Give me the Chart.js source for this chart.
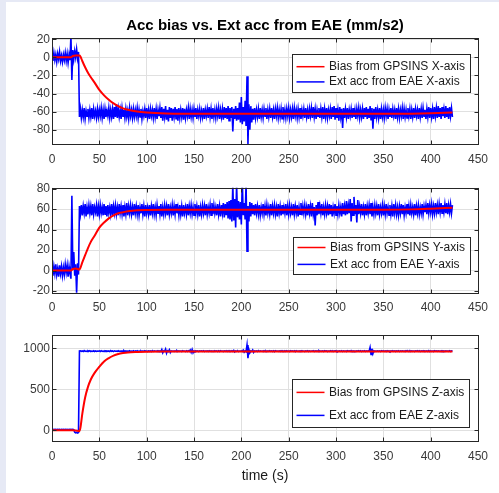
<!DOCTYPE html>
<html>
<head>
<meta charset="utf-8">
<script src="https://cdn.jsdelivr.net/npm/chart.js@4.4.0/dist/chart.umd.min.js"></script>
<style>
  html, body { margin: 0; padding: 0; }
  body { width: 499px; height: 493px; background: #e6e9f5; position: relative; overflow: hidden; }
  #fig { position: absolute; left: 6px; top: 2px; width: 493px; height: 491px; background: #fff; }
  canvas { position: absolute; left: 0; }
</style>
</head>
<body>
<div id="fig"></div>
<canvas id="accX" width="499" height="170" style="top:0px"></canvas>
<canvas id="accY" width="499" height="150" style="top:170px"></canvas>
<canvas id="accZ" width="499" height="173" style="top:320px"></canvas>
<script>
const dt = 1; // EAE samples, seconds apart

const timeTicks = [0, 50, 100, 150, 200, 250, 300, 350, 400, 450];
const yTicksX = [-80, -60, -40, -20, 0, 20];
const yTicksY = [-20, 0, 20, 40, 60, 80];
const yTicksZ = [0, 500, 1000];

// GPSINS bias estimate, sampled sparsely
const biasTime = [0, 20, 22, 25, 29, 30, 32, 35, 38, 41, 45, 50, 55, 60, 65, 70, 75, 80, 90, 100, 120, 150, 200, 250, 300, 350, 380, 400, 423];
const biasX = [0, 0, 1.5, 2, 2, 1, -4, -11, -17, -22, -28, -36, -42, -47, -51, -54, -56.5, -58, -60, -61, -62, -62.3, -62.5, -62.5, -62.5, -62.5, -62.3, -61.8, -61];
const biasY = [0, 0, 1.5, 2, 1, 2.5, 8, 15, 22, 28, 34, 42, 47, 51, 54, 56, 57, 58, 59, 59.3, 59.5, 59.5, 59.5, 59.5, 59.5, 59.5, 59.8, 60.5, 61.5];
const biasZ = [0, 0, 0, -2, -10, 30, 200, 400, 530, 620, 700, 775, 840, 880, 910, 930, 942, 950, 956, 959, 961, 962, 962, 962, 962, 962, 962, 962, 962];

// external acceleration from EAE, one value per second
const extX = [
  2, -4, 5, -3, 3, -5, 4, -2, 6, -4, 2, -5, 3, -3, 5, -4, 4, -6, 3, -3,
  24, -25, 8, -2, 7, 0, 9, -1, 6, -66,
  -57, -67, -58, -66, -56, -68, -59, -65, -57, -67, -58, -66, -56, -68, -57, -65, -59, -67, -57, -66,
  -58, -65, -56, -67, -58, -68, -57, -66, -59, -65, -56, -67, -58, -66, -57, -68, -55, -66, -52, -67,
  -57, -66, -58, -68, -56, -65, -58, -67, -57, -66, -59, -68, -56, -65, -58, -67, -57, -66, -58, -65,
  -56, -67, -58, -66, -57, -68, -59, -65, -57, -67, -56, -66, -58, -68, -57, -65, -58, -67, -56, -66,
  -57, -68, -58, -65, -56, -67, -55, -70, -57, -66, -54, -69, -58, -71, -55, -67, -56, -70, -57, -66,
  -55, -68, -57, -70, -56, -67, -58, -66, -56, -69, -57, -67, -58, -65, -56, -68, -57, -66, -58, -67,
  -57, -66, -56, -68, -58, -65, -57, -67, -59, -66, -56, -68, -58, -65, -57, -67, -55, -66, -57, -68,
  -56, -66, -58, -67, -57, -65, -56, -68, -58, -66, -57, -69, -55, -67, -56, -68, -54, -70, -56, -67,
  -55, -82, -57, -68, -54, -70, -56, -69, -50, -72, -44, -74, -55, -71, -48, -76, -21, -96, -52, -80,
  -54, -72, -57, -69, -56, -67, -58, -66, -57, -68, -56, -66, -58, -67, -57, -65, -56, -68, -58, -66,
  -57, -67, -56, -66, -58, -68, -57, -65, -56, -67, -58, -66, -57, -68, -55, -66, -58, -67, -57, -65,
  -56, -67, -58, -66, -57, -68, -56, -65, -58, -67, -57, -66, -56, -68, -58, -65, -57, -67, -56, -66,
  -58, -68, -57, -65, -56, -67, -55, -66, -57, -68, -58, -65, -56, -67, -57, -66, -55, -68, -57, -66,
  -56, -67, -58, -65, -57, -68, -55, -66, -54, -69, -56, -67, -58, -70, -55, -66, -57, -78, -56, -67,
  -57, -66, -56, -68, -58, -65, -57, -67, -56, -66, -58, -68, -57, -65, -56, -67, -58, -66, -57, -68,
  -56, -66, -55, -68, -57, -67, -54, -69, -56, -79, -57, -68, -55, -66, -58, -67, -56, -68, -57, -66,
  -58, -67, -56, -65, -57, -68, -58, -66, -56, -67, -57, -65, -58, -68, -56, -66, -57, -67, -58, -65,
  -56, -68, -57, -66, -58, -67, -56, -65, -57, -68, -58, -66, -56, -67, -57, -65, -58, -68, -56, -66,
  -57, -67, -56, -65, -58, -68, -57, -66, -55, -67, -56, -66, -57, -68, -55, -65, -56, -67, -54, -66,
  -56, -68, -55, -65, -57, -67, -54, -66, -56, -68, -55, -65, -56, -66
];
const extY = [
  3, -5, 4, -3, 6, -4, 2, -6, 5, -3, 4, -5, 3, -4, 6, -2, 5, -6, 4, -3,
  -8, 73, 2, 18, -5, 6, -22, 7, -4, 63,
  55, 64, 54, 63, 56, 65, 53, 62, 55, 64, 56, 63, 54, 65, 55, 62, 57, 64, 53, 63,
  55, 64, 56, 62, 54, 65, 55, 63, 53, 64, 56, 62, 55, 65, 54, 63, 56, 64, 55, 62,
  54, 65, 56, 63, 55, 64, 53, 62, 55, 66, 54, 63, 56, 64, 55, 62, 54, 65, 56, 63,
  55, 64, 54, 62, 56, 65, 55, 63, 53, 64, 56, 62, 55, 64, 54, 63, 56, 65, 55, 62,
  54, 64, 56, 63, 55, 65, 53, 62, 55, 64, 56, 63, 54, 65, 55, 62, 56, 64, 54, 63,
  55, 65, 56, 62, 54, 64, 55, 63, 53, 64, 56, 62, 55, 65, 54, 63, 56, 64, 55, 62,
  54, 65, 56, 63, 55, 64, 53, 62, 55, 64, 56, 63, 54, 65, 55, 62, 56, 64, 54, 66,
  55, 64, 56, 62, 54, 65, 55, 63, 53, 64, 56, 66, 52, 65, 54, 67, 51, 68, 50, 69,
  48, 84, 49, 70, 42, 85, 52, 68, 50, 67, 45, 88, 54, 66, 50, 86, 19, 63, 48, 67,
  53, 66, 55, 64, 54, 65, 56, 63, 55, 64, 54, 62, 56, 65, 55, 63, 54, 64, 56, 62,
  55, 65, 54, 63, 56, 64, 55, 62, 53, 65, 56, 63, 54, 64, 55, 62, 56, 65, 54, 63,
  55, 64, 56, 62, 54, 65, 55, 63, 56, 64, 53, 62, 55, 66, 54, 63, 56, 64, 55, 62,
  54, 65, 56, 63, 53, 66, 55, 62, 44, 64, 54, 67, 55, 63, 56, 65, 54, 62, 55, 64,
  56, 63, 54, 65, 55, 64, 53, 62, 56, 65, 54, 63, 55, 64, 56, 62, 53, 66, 55, 63,
  54, 68, 55, 64, 56, 70, 48, 66, 54, 72, 55, 64, 47, 69, 55, 63, 56, 65, 54, 62,
  55, 65, 54, 63, 56, 64, 55, 66, 53, 62, 55, 64, 56, 63, 54, 65, 55, 62, 56, 64,
  54, 63, 55, 65, 56, 62, 54, 64, 55, 63, 53, 65, 56, 64, 55, 62, 54, 63, 56, 65,
  55, 64, 54, 62, 56, 65, 55, 63, 54, 64, 56, 62, 55, 65, 54, 63, 56, 64, 55, 62,
  56, 65, 55, 63, 57, 64, 55, 66, 56, 64, 57, 65, 55, 63, 56, 66, 57, 64, 55, 65,
  57, 66, 56, 64, 57, 65, 56, 66, 55, 64, 57, 65, 56, 64
];
const extZ = [
  12, 8, 13, 9, 11, 7, 12, 10, 13, 8, 11, 9, 12, 7, 13, 10, 11, 8, 12, 9,
  11, 9, 12, 8, -22, -30, -26, -34, -28, 968,
  970, 962, 968, 960, 972, 963, 967, 961, 969, 964, 971, 960, 966, 963, 970, 961, 968, 962, 967, 964,
  969, 961, 971, 963, 966, 960, 970, 964, 968, 962, 967, 961, 972, 963, 968, 960, 969, 964, 966, 962,
  970, 963, 967, 961, 969, 962, 971, 960, 968, 964, 966, 961, 970, 963, 967, 962, 969, 960, 968, 963,
  971, 961, 967, 963, 969, 960, 968, 962, 970, 964, 966, 961, 969, 963, 967, 960, 971, 962, 968, 964,
  967, 961, 970, 963, 968, 960, 985, 945, 969, 962, 990, 940, 970, 961, 982, 948, 968, 963, 967, 961,
  969, 962, 971, 960, 968, 963, 966, 961, 970, 964, 967, 960, 969, 962, 971, 963, 980, 950, 985, 945,
  968, 961, 970, 963, 967, 960, 969, 964, 968, 962, 971, 961, 967, 963, 969, 960, 970, 962, 968, 964,
  966, 961, 970, 963, 968, 960, 969, 962, 971, 964, 967, 961, 968, 963, 970, 960, 969, 962, 967, 963,
  970, 961, 975, 955, 968, 962, 971, 960, 967, 964, 969, 961, 978, 952, 968, 960, 1040, 880, 985, 945,
  969, 962, 980, 950, 968, 963, 967, 960, 971, 962, 968, 964, 966, 961, 970, 963, 969, 960, 967, 962,
  970, 963, 968, 961, 969, 960, 971, 964, 967, 962, 968, 961, 970, 963, 966, 960, 969, 962, 971, 963,
  967, 961, 970, 964, 968, 962, 969, 960, 971, 963, 967, 961, 968, 964, 970, 962, 966, 960, 969, 963,
  971, 961, 968, 962, 967, 964, 970, 960, 969, 963, 968, 961, 971, 962, 967, 963, 969, 960, 970, 964,
  968, 961, 967, 963, 970, 962, 969, 960, 968, 964, 971, 961, 967, 963, 969, 962, 970, 960, 968, 963,
  967, 961, 970, 964, 968, 962, 971, 960, 969, 963, 967, 961, 968, 964, 970, 962, 969, 960, 967, 963,
  970, 961, 968, 962, 969, 964, 1010, 925, 995, 935, 970, 961, 967, 963, 969, 962, 968, 960, 970, 964,
  968, 962, 967, 961, 970, 963, 969, 960, 968, 964, 971, 962, 967, 961, 969, 963, 970, 960, 968, 962,
  969, 963, 967, 961, 970, 964, 968, 960, 971, 962, 969, 963, 967, 961, 968, 964, 970, 962, 969, 960,
  968, 963, 970, 961, 967, 964, 969, 962, 971, 960, 968, 963, 967, 961, 970, 964, 968, 962, 969, 963,
  967, 961, 970, 963, 968, 960, 969, 964, 967, 962, 970, 961, 968, 963
];

const labelsX = ['Bias from GPSINS X-axis', 'Ext acc from EAE X-axis'];
const labelsY = ['Bias from GPSINS Y-axis', 'Ext acc from EAE Y-axis'];
const labelsZ = ['Bias from GPSINS Z-axis', 'Ext acc from EAE Z-axis'];

Chart.defaults.font.family = '"Liberation Sans", Arial, sans-serif';
Chart.defaults.font.size = 12;
Chart.defaults.color = '#3a3a3a';

// box round the axes plus short inward ticks on all four sides
const axesBox = {
  id: 'axesBox',
  afterDatasetsDraw(chart) {
    const { ctx, chartArea: a, scales } = chart;
    const l = Math.round(a.left) + 0.5, r = Math.round(a.right) + 0.5;
    const t = Math.round(a.top) + 0.5, b = Math.round(a.bottom) + 0.5;
    ctx.save();
    ctx.strokeStyle = '#262626';
    ctx.lineWidth = 1;
    ctx.beginPath();
    scales.x.ticks.forEach(tk => {
      const px = Math.round(scales.x.getPixelForValue(tk.value)) + 0.5;
      ctx.moveTo(px, t); ctx.lineTo(px, t + 4);
      ctx.moveTo(px, b); ctx.lineTo(px, b - 4);
    });
    scales.y.ticks.forEach(tk => {
      const py = Math.round(scales.y.getPixelForValue(tk.value)) + 0.5;
      ctx.moveTo(l, py); ctx.lineTo(l + 4, py);
      ctx.moveTo(r, py); ctx.lineTo(r - 4, py);
    });
    ctx.stroke();
    ctx.strokeRect(l, t, r - l, b - t);
    ctx.restore();
  }
};

// legend drawn inside the axes, MATLAB style
const boxLegend = {
  id: 'boxLegend',
  afterDraw(chart, args, opts) {
    const { ctx, chartArea: a } = chart;
    const left = Math.round(a.right - opts.right - opts.width);
    const top = Math.round(a.top + opts.top);
    ctx.save();
    ctx.fillStyle = '#fff';
    ctx.fillRect(left, top, opts.width, opts.height);
    ctx.strokeStyle = '#262626';
    ctx.lineWidth = 1;
    ctx.strokeRect(left + 0.5, top + 0.5, opts.width, opts.height);
    ctx.font = '12px "Liberation Sans", Arial, sans-serif';
    ctx.textBaseline = 'middle';
    chart.data.datasets.forEach((ds, i) => {
      const y = top + opts.rows[i];
      ctx.strokeStyle = ds.borderColor;
      ctx.lineWidth = 1.5;
      ctx.beginPath();
      ctx.moveTo(left + 4.5, y);
      ctx.lineTo(left + 32.5, y);
      ctx.stroke();
      ctx.fillStyle = '#1a1a1a';
      ctx.fillText(ds.label, left + 37, y);
    });
    ctx.restore();
  }
};

function makeChart(id, o) {
  const biasPts = o.bias.map((v, i) => ({ x: biasTime[i], y: v }));
  const extPts = o.ext.map((v, i) => ({ x: i * dt, y: v }));
  return new Chart(document.getElementById(id), {
    type: 'line',
    data: {
      datasets: [
        { label: o.labels[0], data: biasPts, borderColor: '#ff0000', borderWidth: 2,
          pointRadius: 0, cubicInterpolationMode: 'monotone' },
        { label: o.labels[1], data: extPts, borderColor: '#0000ff', borderWidth: 1.6,
          pointRadius: 0, tension: 0 }
      ]
    },
    options: {
      responsive: false,
      animation: false,
      events: [],
      layout: { padding: o.padding },
      plugins: {
        legend: { display: false },
        tooltip: { enabled: false },
        title: o.title
          ? { display: true, text: o.title, fullSize: false, color: '#000',
              font: { size: 15, weight: 'bold' }, padding: { top: 0, bottom: 3 } }
          : { display: false },
        boxLegend: o.legend
      },
      scales: {
        x: {
          type: 'linear', min: 0, max: 450,
          afterBuildTicks: s => { s.ticks = timeTicks.map(v => ({ value: v })); },
          afterFit: s => { s.height = o.xHeight; },
          grid: { color: '#e0e0e0', drawTicks: false },
          border: { display: false },
          ticks: { padding: 8, maxRotation: 0, autoSkip: false, callback: v => String(v) },
          title: o.xTitle
            ? { display: true, text: o.xTitle, color: '#1a1a1a', font: { size: 14 }, padding: { top: 0, bottom: 4 } }
            : { display: false }
        },
        y: {
          min: o.yMin, max: o.yMax,
          afterBuildTicks: s => { s.ticks = o.yTicks.map(v => ({ value: v })); },
          afterFit: s => { s.width = 52; },
          grid: { color: '#e0e0e0', drawTicks: false },
          border: { display: false },
          ticks: { padding: 2, callback: v => String(v) }
        }
      }
    },
    plugins: [axesBox, boxLegend]
  });
}

makeChart('accX', {
  bias: biasX, ext: extX, labels: labelsX,
  yMin: -96.2, yMax: 21.1, yTicks: yTicksX,
  title: 'Acc bias vs. Ext acc from EAE (mm/s2)',
  padding: { top: 17.3, bottom: 1.7, left: 0, right: 21 }, xHeight: 24,
  legend: { right: 8, top: 16, width: 178, height: 38, rows: [12.7, 27.9] }
});

makeChart('accY', {
  bias: biasY, ext: extY, labels: labelsY,
  yMin: -21.7, yMax: 81, yTicks: yTicksY,
  padding: { top: 17.7, bottom: 3.3, left: 0, right: 21 }, xHeight: 24,
  legend: { right: 8, top: 49.6, width: 177, height: 37, rows: [10.5, 27.4] }
});

makeChart('accZ', {
  bias: biasZ, ext: extZ, labels: labelsZ,
  yMin: -130, yMax: 1162, yTicks: yTicksZ,
  xTitle: 'time (s)',
  padding: { top: 15, bottom: 4, left: 0, right: 21 }, xHeight: 48,
  legend: { right: 9, top: 44.3, width: 177, height: 48, rows: [13.4, 36.4] }
});
</script>
</body>
</html>
